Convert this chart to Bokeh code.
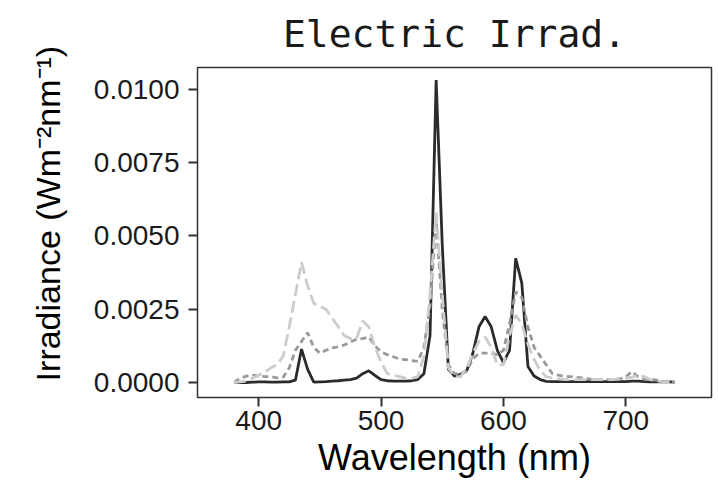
from bokeh.plotting import figure
from bokeh.embed import file_html
from bokeh.resources import INLINE
from bokeh.models import Range1d, FixedTicker, NumeralTickFormatter, ColumnDataSource

# ---- data ----
wavelength = [380, 385, 390, 395, 400, 405, 410, 415, 420, 425,
              430, 435, 440, 445, 450, 455, 460, 465, 470, 475,
              480, 485, 490, 495, 500, 505, 510, 515, 520, 525,
              530, 535, 540, 545, 550, 555, 560, 565, 570, 575,
              580, 585, 590, 595, 600, 605, 610, 615, 620, 625,
              630, 635, 640, 645, 650, 655, 660, 665, 670, 675,
              680, 685, 690, 695, 700, 705, 710, 715, 720, 725,
              730, 735, 740]

irrad_solid = [0.00000, 0.00000, 0.00000, 0.00001, 0.00002, 0.00002, 0.00001, 0.00001, 0.00002, 0.00002,
               0.00008, 0.00114, 0.00045, 0.00001, 0.00002, 0.00003, 0.00005, 0.00006, 0.00008, 0.00010,
               0.00015, 0.00030, 0.00040, 0.00024, 0.00010, 0.00006, 0.00005, 0.00005, 0.00005, 0.00006,
               0.00010, 0.00030, 0.00160, 0.01032, 0.00470, 0.00045, 0.00022, 0.00028, 0.00040, 0.00100,
               0.00190, 0.00225, 0.00190, 0.00110, 0.00068, 0.00110, 0.00424, 0.00339, 0.00055, 0.00022,
               0.00010, 0.00004, 0.00003, 0.00003, 0.00003, 0.00003, 0.00003, 0.00003, 0.00003, 0.00003,
               0.00003, 0.00003, 0.00003, 0.00003, 0.00003, 0.00005, 0.00005, 0.00003, 0.00002, 0.00002,
               0.00002, 0.00002, 0.00001]

irrad_short = [0.00000, 0.00015, 0.00022, 0.00025, 0.00022, 0.00020, 0.00020, 0.00016, 0.00018, 0.00050,
               0.00110, 0.00140, 0.00170, 0.00120, 0.00100, 0.00110, 0.00118, 0.00122, 0.00128, 0.00138,
               0.00148, 0.00150, 0.00155, 0.00125, 0.00105, 0.00095, 0.00088, 0.00080, 0.00078, 0.00075,
               0.00072, 0.00120, 0.00260, 0.00550, 0.00250, 0.00060, 0.00030, 0.00030, 0.00040, 0.00080,
               0.00100, 0.00100, 0.00100, 0.00095, 0.00110, 0.00200, 0.00310, 0.00290, 0.00190, 0.00120,
               0.00090, 0.00060, 0.00030, 0.00025, 0.00020, 0.00020, 0.00018, 0.00015, 0.00012, 0.00010,
               0.00010, 0.00010, 0.00011, 0.00012, 0.00020, 0.00037, 0.00020, 0.00012, 0.00010, 0.00008,
               0.00005, 0.00003, 0.00000]

irrad_long = [0.00000, 0.00002, 0.00005, 0.00015, 0.00025, 0.00035, 0.00050, 0.00060, 0.00090, 0.00190,
              0.00300, 0.00410, 0.00330, 0.00270, 0.00260, 0.00250, 0.00220, 0.00190, 0.00160, 0.00150,
              0.00150, 0.00210, 0.00190, 0.00120, 0.00070, 0.00030, 0.00025, 0.00020, 0.00015, 0.00014,
              0.00020, 0.00090, 0.00300, 0.00580, 0.00300, 0.00050, 0.00020, 0.00020, 0.00050, 0.00100,
              0.00140, 0.00155, 0.00120, 0.00060, 0.00060, 0.00160, 0.00230, 0.00200, 0.00130, 0.00080,
              0.00040, 0.00020, 0.00015, 0.00012, 0.00010, 0.00010, 0.00010, 0.00010, 0.00010, 0.00010,
              0.00010, 0.00010, 0.00010, 0.00012, 0.00014, 0.00018, 0.00025, 0.00020, 0.00010, 0.00005,
              0.00003, 0.00002, 0.00001]

x_ticks = [400, 500, 600, 700]
y_ticks = [0.0, 0.0025, 0.005, 0.0075, 0.01]

title_text = "Electric Irrad."
x_label = "Wavelength (nm)"
y_label = "Irradiance (Wm\u207b\u00b2nm\u207b\u00b9)"

src = ColumnDataSource(dict(wl=wavelength, solid=irrad_solid, short=irrad_short, long=irrad_long))

X0, X1 = 350, 770
Y0, Y1 = -0.000512, 0.01075
p = figure(width=718, height=489, output_backend="svg", toolbar_location=None,
           x_range=Range1d(X0, X1), y_range=Range1d(Y0, Y1),
           min_border_left=197, min_border_right=7, min_border_top=67, min_border_bottom=92,
           title=title_text)

p.background_fill_color = "white"
p.border_fill_color = "white"
p.outline_line_color = "#333333"
p.outline_line_width = 1.5
p.xgrid.visible = False
p.ygrid.visible = False

p.title.align = "center"
p.title.vertical_align = "top"
p.title.text_font = "DejaVu Sans Mono"
p.title.text_font_size = "38px"
p.title.text_font_style = "normal"
p.title.text_color = "#1a1a1a"
p.title.standoff = 19

for ax in (p.xaxis[0], p.yaxis[0]):
    ax.axis_line_color = None
    ax.major_tick_line_color = "#333333"
    ax.major_tick_line_width = 2
    ax.major_tick_in = 0
    ax.major_tick_out = 9
    ax.minor_tick_line_color = None
    ax.major_label_text_font = "Liberation Sans"
    ax.major_label_text_font_size = "28px"
    ax.major_label_text_color = "#1a1a1a"
    ax.axis_label_text_font = "Liberation Sans"
    ax.axis_label_text_font_size = "36px"
    ax.axis_label_text_font_style = "normal"
    ax.axis_label_text_color = "#000000"

p.xaxis[0].ticker = FixedTicker(ticks=x_ticks)
p.yaxis[0].ticker = FixedTicker(ticks=y_ticks)
p.yaxis[0].formatter = NumeralTickFormatter(format="0.0000")
p.xaxis[0].axis_label = x_label
p.xaxis[0].major_label_standoff = 4
p.xaxis[0].axis_label_standoff = 4
p.yaxis[0].major_label_standoff = 9
# leading no-break spaces shift the centred (rotated) title upward, as in the reference
p.yaxis[0].axis_label = "\u00a0\u00a0\u00a0\u00a0" + y_label
p.yaxis[0].axis_label_text_font_size = "34px"
p.yaxis[0].axis_label_standoff = 24

p.line("wl", "solid", source=src, line_color="#2b2b2b", line_width=2.8)
p.line("wl", "short", source=src, line_color="#999999", line_width=2.8, line_dash="6 4")
p.line("wl", "long", source=src, line_color="#cccccc", line_width=2.8, line_dash="12 5")

open("out.html", "w").write(file_html(p, INLINE))
